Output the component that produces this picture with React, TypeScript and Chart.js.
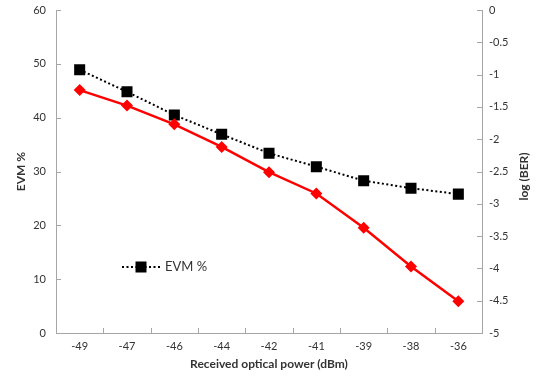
import React, { useEffect, useRef } from 'react';
import { Chart, registerables } from 'chart.js';

Chart.register(...registerables);

const categories = ['-49', '-47', '-46', '-44', '-42', '-41', '-39', '-38', '-36'];
const evmValues = [48.9, 44.8, 40.5, 36.9, 33.4, 30.9, 28.3, 26.9, 25.8];
const logBerValues = [-1.24, -1.48, -1.77, -2.12, -2.51, -2.84, -3.37, -3.97, -4.51];

const AXIS_COLOR = '#a6a6a6';
const TEXT_COLOR = '#333333';
const FONT = 'Lato, "Open Sans", sans-serif';

const innerTicks = {
  id: 'innerTicks',
  afterDraw(chart: any) {
    const { ctx, chartArea, scales } = chart;
    ctx.save();
    ctx.strokeStyle = AXIS_COLOR;
    ctx.lineWidth = 1;
    const seg = (x1: number, y1: number, x2: number, y2: number) => {
      ctx.beginPath();
      ctx.moveTo(x1, y1);
      ctx.lineTo(x2, y2);
      ctx.stroke();
    };
    const x = scales.x;
    for (let i = 0; i < categories.length - 1; i++) {
      const px = Math.round((x.getPixelForValue(i) + x.getPixelForValue(i + 1)) / 2) + 0.5;
      seg(px, chartArea.bottom, px, chartArea.bottom - 5);
    }
    scales.y.ticks.forEach((t: any) => {
      const py = Math.round(scales.y.getPixelForValue(t.value)) + 0.5;
      seg(chartArea.left, py, chartArea.left + 5, py);
    });
    scales.y1.ticks.forEach((t: any) => {
      const py = Math.round(scales.y1.getPixelForValue(t.value)) + 0.5;
      seg(chartArea.right - 5, py, chartArea.right, py);
    });
    // right axis title, reading bottom-to-top
    ctx.fillStyle = TEXT_COLOR;
    ctx.font = `bold 12px ${FONT}`;
    ctx.textAlign = 'center';
    ctx.textBaseline = 'middle';
    ctx.translate(chartArea.right + 42, (chartArea.top + chartArea.bottom) / 2 + 5);
    ctx.rotate(-Math.PI / 2);
    ctx.fillText('log (BER)', 0, 0);
    ctx.restore();

    // legend inside plot
    ctx.save();
    const lx = chartArea.left + 66;
    const ly = chartArea.top + 257;
    ctx.strokeStyle = '#000';
    ctx.lineWidth = 2;
    ctx.setLineDash([2, 2.5]);
    ctx.beginPath();
    ctx.moveTo(lx, ly);
    ctx.lineTo(lx + 38, ly);
    ctx.stroke();
    ctx.setLineDash([]);
    ctx.fillStyle = '#000';
    ctx.fillRect(lx + 19 - 5.5, ly - 5.5, 11, 11);
    ctx.fillStyle = TEXT_COLOR;
    ctx.font = `13px ${FONT}`;
    ctx.textAlign = 'left';
    ctx.textBaseline = 'middle';
    ctx.fillText('EVM %', lx + 43, ly);
    ctx.restore();
  },
};

const noVPad = (scale: any, width: number) => {
  scale.width = width;
  scale.paddingTop = 0;
  scale.paddingBottom = 0;
};

export default function App() {
  const ref = useRef<HTMLCanvasElement>(null);
  useEffect(() => {
    document.body.style.margin = '0';
    const canvas = ref.current!;
    const chart = new Chart(canvas, {
      type: 'line',
      data: {
        labels: categories,
        datasets: [
          {
            label: 'log (BER)',
            data: logBerValues,
            yAxisID: 'y1',
            borderColor: '#ff0000',
            backgroundColor: '#ff0000',
            borderWidth: 2.5,
            pointStyle: 'rectRot',
            pointRadius: 6,
            pointBorderWidth: 0,
            pointBackgroundColor: '#ff0000',
            order: 0,
            tension: 0,
          },
          {
            label: 'EVM %',
            data: evmValues,
            yAxisID: 'y',
            borderColor: '#000000',
            backgroundColor: '#000000',
            borderWidth: 2,
            borderDash: [2, 2.5],
            pointStyle: 'rect',
            pointRadius: 7.8,
            pointBorderWidth: 0,
            pointBackgroundColor: '#000000',
            order: 1,
            tension: 0,
          },
        ],
      },
      options: {
        animation: false,
        responsive: false,
        layout: { padding: { top: 10, left: 0, right: 0, bottom: 0 } },
        plugins: {
          legend: { display: false },
          tooltip: { enabled: false },
        },
        scales: {
          x: {
            type: 'category',
            offset: true,
            grid: { display: false, drawTicks: false },
            border: { display: true, color: AXIS_COLOR },
            ticks: { color: TEXT_COLOR, font: { family: FONT, size: 11 }, padding: 7 },
            title: {
              display: true,
              text: 'Received optical power (dBm)',
              color: TEXT_COLOR,
              font: { family: FONT, size: 12, weight: 'bold' },
              padding: { top: 2, bottom: 8 },
            },
            afterFit(scale: any) {
              scale.height = 46;
              scale.paddingLeft = 0;
              scale.paddingRight = 0;
            },
          },
          y: {
            position: 'left',
            min: 0,
            max: 60,
            grid: { display: false, drawTicks: false },
            border: { display: true, color: AXIS_COLOR },
            ticks: { stepSize: 10, color: TEXT_COLOR, font: { family: FONT, size: 11 }, padding: 10 },
            title: {
              display: true,
              text: 'EVM %',
              color: TEXT_COLOR,
              font: { family: FONT, size: 12, weight: 'bold' },
              padding: { top: 14, bottom: 4 },
            },
            afterFit(scale: any) {
              noVPad(scale, 56);
            },
          },
          y1: {
            position: 'right',
            min: -5,
            max: 0,
            grid: { display: false, drawTicks: false },
            border: { display: true, color: AXIS_COLOR },
            ticks: {
              stepSize: 0.5,
              color: TEXT_COLOR,
              font: { family: FONT, size: 11 },
              padding: 7,
              callback: (v: any) => String(Number(v)),
            },
            afterFit(scale: any) {
              noVPad(scale, 57);
            },
          },
        },
      },
      plugins: [innerTicks],
    } as any);
    return () => chart.destroy();
  }, []);
  return <canvas ref={ref} width={539} height={379} style={{ display: 'block' }} />;
}
